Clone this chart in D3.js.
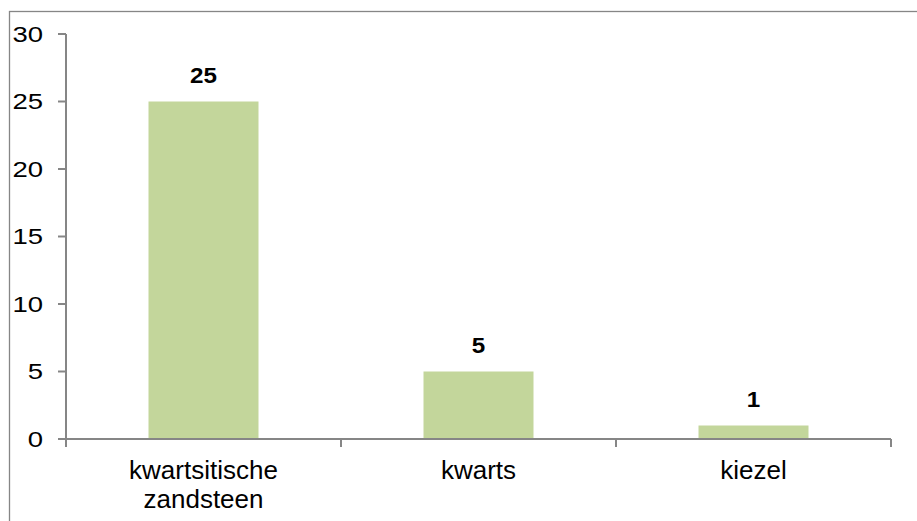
<!DOCTYPE html>
<html>
<head>
<meta charset="utf-8">
<script src="https://cdn.jsdelivr.net/npm/d3@7"></script>
<style>
  html, body { margin: 0; padding: 0; background: #fff; }
  svg { display: block; }
  text { font-family: Arial, "Liberation Sans", sans-serif; fill: #000; }
</style>
</head>
<body>
<svg id="chart" width="917" height="521"></svg>
<script>
// Stone types and counts
const categories = [["kwartsitische", "zandsteen"], ["kwarts"], ["kiezel"]];
const values = [25, 5, 1];
const yTicks = [0, 5, 10, 15, 20, 25, 30];

const W = 917, H = 521;
const margin = { left: 66, right: 26, top: 34, bottom: 82 };
const axisColor = "#868686";
const barColor = "#C3D69B";

const svg = d3.select("#chart");

// Outer frame
svg.append("rect")
  .attr("x", 9.5).attr("y", 11.5)
  .attr("width", W + 20).attr("height", H + 20)
  .attr("fill", "none").attr("stroke", axisColor).attr("stroke-width", 1.3);

const x = d3.scaleBand()
  .domain(d3.range(values.length))
  .range([margin.left, W - margin.right])
  .paddingInner(0.6).paddingOuter(0.3);

const y = d3.scaleLinear()
  .domain([0, 30])
  .range([H - margin.bottom, margin.top]);

// Bars
svg.selectAll("rect.bar").data(values).join("rect")
  .attr("class", "bar")
  .attr("x", (d, i) => x(i))
  .attr("width", x.bandwidth())
  .attr("y", d => y(d))
  .attr("height", d => y(0) - y(d))
  .attr("fill", barColor);

// Value labels
svg.selectAll("text.val").data(values).join("text")
  .attr("class", "val")
  .attr("transform", (d, i) => `translate(${x(i) + x.bandwidth() / 2},${y(d) - 19}) scale(1.1,1)`)
  .attr("text-anchor", "middle")
  .attr("font-size", 22)
  .attr("font-weight", "bold")
  .text(d => d);

// Y axis
const yAxis = svg.append("g");
yAxis.append("line")
  .attr("x1", margin.left).attr("x2", margin.left)
  .attr("y1", y(30)).attr("y2", y(0))
  .attr("stroke", axisColor).attr("stroke-width", 2);
yAxis.selectAll("line.tick").data(yTicks).join("line")
  .attr("class", "tick")
  .attr("x1", margin.left - 8).attr("x2", margin.left)
  .attr("y1", d => y(d)).attr("y2", d => y(d))
  .attr("stroke", axisColor).attr("stroke-width", 2);
yAxis.selectAll("text").data(yTicks).join("text")
  .attr("transform", d => `translate(43,${y(d) + 7.8}) scale(1.25,1)`)
  .attr("text-anchor", "end")
  .attr("font-size", 22)
  .text(d => d);

// X axis
const x0 = margin.left, x1 = W - margin.right;
const xAxis = svg.append("g");
xAxis.append("line")
  .attr("x1", x0).attr("x2", x1)
  .attr("y1", y(0)).attr("y2", y(0))
  .attr("stroke", axisColor).attr("stroke-width", 2);
const bounds = d3.range(values.length + 1).map(i => x0 + i * (x1 - x0) / values.length);
xAxis.selectAll("line.tick").data(bounds).join("line")
  .attr("class", "tick")
  .attr("x1", d => d).attr("x2", d => d)
  .attr("y1", y(0)).attr("y2", y(0) + 8)
  .attr("stroke", axisColor).attr("stroke-width", 2);

// Category labels
categories.forEach((lines, i) => {
  const cx = x(i) + x.bandwidth() / 2;
  lines.forEach((ln, j) => {
    svg.append("text")
      .attr("x", cx)
      .attr("y", 479 + j * 29)
      .attr("text-anchor", "middle")
      .attr("font-size", 26)
      .text(ln);
  });
});
</script>
</body>
</html>
